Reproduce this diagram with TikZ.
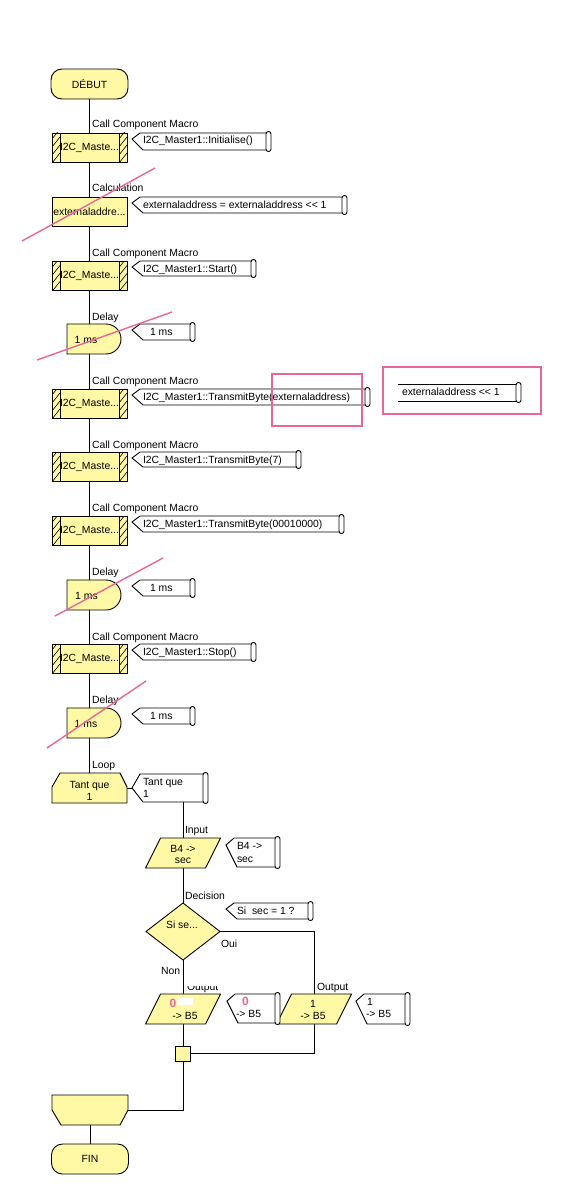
\documentclass[tikz,border=0pt]{standalone}
\usepackage{fontspec}
\setmainfont{Liberation Sans}
\usetikzlibrary{shapes.geometric}
\definecolor{fy}{HTML}{FFF9A6}
\definecolor{pk}{HTML}{E8669A}
\newcommand\flowcmt[7]{%
  \draw[cmtline] (#5,#3) -- (#2+8,#3) -- (#2,#6) -- (#2+11,#4) -- (#5,#4);
  \draw[cmtline,fill=white,rounded corners=2.4pt] (#5-2,#3-1.5) rectangle (#5+3,#4+1.5);
  \node[lbl] (#1) at (#2+11,#3+11) {#7};
}
\newcommand\pinkzero{\textcolor{pk}{\fontsize{12}{12}\selectfont\textbf{0}}}
\begin{document}
\begin{tikzpicture}[x=1pt,y=-1pt,
  font=\fontsize{10.4}{12}\selectfont,
  line width=0.9pt,
  shp/.style={draw, fill=fy, line width=0.9pt},
  cmtline/.style={line width=0.9pt},
  lbl/.style={anchor=base west, inner sep=0, outer sep=0},
  bc/.style={anchor=base, inner sep=0, outer sep=0},
  txt/.style={inner sep=0, outer sep=0, align=center},
  ghost/.style={inner sep=0, outer sep=0, minimum width=#1, minimum height=30pt},
  term/.style={shp, rounded corners=11pt, minimum width=77pt, minimum height=30pt, inner sep=0, outer sep=0},
  calcbox/.style={shp, minimum width=75pt, minimum height=29pt, inner sep=0, outer sep=0},
  macro/.style={calcbox,
    path picture={
      \draw[line width=0.9pt] ([xshift=8pt]path picture bounding box.north west) -- ([xshift=8pt]path picture bounding box.south west);
      \draw[line width=0.9pt] ([xshift=-8pt]path picture bounding box.north east) -- ([xshift=-8pt]path picture bounding box.south east);
      \foreach \k in {0,1,2,3}{
        \draw[line width=0.6pt] ([yshift=-6pt-\k*8pt]path picture bounding box.north west) -- ++(8pt,10pt);
        \draw[line width=0.6pt] ([yshift=-6pt-\k*8pt,xshift=-8pt]path picture bounding box.north east) -- ++(8pt,10pt);
      }
    }},
  jnbox/.style={shp, minimum size=15pt, inner sep=0, outer sep=0},
  cross/.style={draw=pk, line width=1.4pt},
  hl/.style={draw=pk, line width=1.8pt}
]
\fill[white] (0,0) rectangle (565,1201);
\useasboundingbox (0,0) rectangle (565,1201);

% ---- main column nodes
\node[term] (dbt) at (89.5,84) {DÉBUT};
\node[macro] (m1) at (89.5,147.5) {I2C\_Maste...};
\node[calcbox] (calc) at (89.5,211.5) {externaladdre...};
\node[macro] (m2) at (89.5,276) {I2C\_Maste...};
\node[ghost=54pt] (d1) at (94,339) {};
\node[macro] (m3) at (89.5,403.5) {I2C\_Maste...};
\node[macro] (m4) at (89.5,466.5) {I2C\_Maste...};
\node[macro] (m5) at (89.5,531) {I2C\_Maste...};
\node[ghost=54pt] (d2) at (94,595) {};
\node[macro] (m6) at (89.5,658.5) {I2C\_Maste...};
\node[ghost=54pt] (d3) at (94,723) {};
\node[ghost=75pt] (lp) at (89.5,788) {};
\node[ghost=75pt] (inp) at (183,853) {};
\node[shp, diamond, minimum width=74pt, minimum height=57pt, inner sep=0, outer sep=0] (dec) at (183,931.5) {};
\node[ghost=75pt] (o1) at (183,1009) {};
\node[ghost=75pt] (o2) at (314,1009) {};
\node[jnbox] (jn) at (183,1053.5) {};
\node[ghost=76pt] (lend) at (90,1110) {};
\node[term] (fin) at (90,1159) {FIN};
\coordinate (tqtip) at (132,788);
\coordinate (tqbot) at (183,802);

% ---- connectors
\draw (dbt.south) -- (m1.north);
\draw (m1.south) -- (calc.north);
\draw (calc.south) -- (m2.north);
\draw (m2.south) -- (m2.south |- d1.north);
\draw (d1.south -| m3.north) -- (m3.north);
\draw (m3.south) -- (m4.north);
\draw (m4.south) -- (m5.north);
\draw (m5.south) -- (m5.south |- d2.north);
\draw (d2.south -| m6.north) -- (m6.north);
\draw (m6.south) -- (m6.south |- d3.north);
\draw (d3.south -| lp.north) -- (lp.north);
\draw (lp.east) -- (tqtip);
\draw (tqbot) -- (tqbot |- inp.north);
\draw (inp.south) -- (dec.north);
\draw (dec.south) -- (o1.north);
\draw (dec.east) -| (o2.north);
\draw (o1.south) -- (jn.north);
\draw (o2.south) |- (jn.east);
\draw (jn.south) |- (lend.east);
\draw (lend.south) -- (fin.north);

% ---- custom outlines
\foreach \d in {d1,d2,d3}{
  \draw[shp] (\d.north west) -- ([xshift=-15pt]\d.north east) arc[start angle=90, end angle=-90, radius=15pt] -- (\d.south west) -- cycle;
}
\draw[shp] ([xshift=8pt]lp.north west) -- ([xshift=-7pt]lp.north east) -- ([yshift=-14pt]lp.north east) -- (lp.south east) -- (lp.south west) -- ([yshift=-14pt]lp.north west) -- cycle;
\foreach \p in {inp,o1,o2}{
  \draw[shp] ([xshift=15pt]\p.north west) -- (\p.north east) -- ([xshift=-15pt]\p.south east) -- (\p.south west) -- cycle;
}
\draw[shp] (lend.north west) -- (lend.north east) -- (lend.east) -- ([xshift=-8pt]lend.south east) -- ([xshift=9pt]lend.south west) -- (lend.west) -- cycle;

% ---- texts in shapes
\node[txt] (d1t) at (86,340) {1 ms};
\node[txt] (d2t) at (86.5,596) {1 ms};
\node[txt] (d3t) at (86,724) {1 ms};
\node[txt] (lpt) at (89.5,791) {Tant que\\1};
\node[bc] (inpa) at (183,852) {B4 ->};
\node[bc] (inpb) at (183,863) {sec};
\node[bc] (dect) at (182,928) {Si  se...};
\node[bc] (o1a) at (173,1007) {\pinkzero};
\fill[white] (178,998) rectangle (193,1005);
\node[bc] (o1b) at (185,1019) {-> B5};
\node[bc] (o2a) at (313,1007) {1};
\node[bc] (o2b) at (313,1019) {-> B5};

% ---- labels
\node[lbl] (l1) at (92,128) {Call Component Macro};
\node[lbl] (l2) at (92,192) {Calculation};
\node[lbl] (l3) at (92,256) {Call Component Macro};
\node[lbl] (l4) at (92,320) {Delay};
\node[lbl] (l5) at (92,384) {Call Component Macro};
\node[lbl] (l6) at (92,448) {Call Component Macro};
\node[lbl] (l7) at (92,511) {Call Component Macro};
\node[lbl] (l8) at (92,575) {Delay};
\node[lbl] (l9) at (92,640) {Call Component Macro};
\node[lbl] (l10) at (92,703) {Delay};
\node[lbl] (l11) at (92,768) {Loop};
\node[lbl] (l12) at (185,833) {Input};
\node[lbl] (l13) at (185,899) {Decision};
\node[lbl] (l14) at (221,947) {Oui};
\node[lbl] (l15) at (161,974) {Non};
\node[lbl] (l16) at (317,990) {Output};
\begin{scope}
  \clip (150,986) rectangle (260,995);
  \node[lbl] (l17) at (187,990) {Output};
\end{scope}

% ---- comments
\flowcmt{c1}{132}{133}{150}{268}{139}{I2C\_Master1::Initialise()}
\flowcmt{c2}{132}{197}{213}{344}{203}{externaladdress = externaladdress <{}< 1}
\flowcmt{c3}{132}{261}{276}{253}{267}{I2C\_Master1::Start()}
\flowcmt{c4}{132}{324}{340}{192}{330}{\kern7pt 1 ms}
\flowcmt{c5}{132}{389}{405}{367}{395}{I2C\_Master1::TransmitByte(externaladdress)}
\flowcmt{c6}{132}{452}{467}{298}{458}{I2C\_Master1::TransmitByte(7)}
\flowcmt{c7}{132}{516}{532}{341}{522}{I2C\_Master1::TransmitByte(00010000)}
\flowcmt{c8}{132}{580}{596}{192}{586}{\kern7pt 1 ms}
\flowcmt{c9}{132}{644}{660}{253}{650}{I2C\_Master1::Stop()}
\flowcmt{c10}{132}{708}{724}{192}{714}{\kern7pt 1 ms}
\flowcmt{c11}{132}{774}{802}{205}{788}{Tant que}
\node[lbl] (c11b) at (143,797) {1};
\flowcmt{c12}{226}{838}{867}{277}{845}{B4 ->}
\node[lbl] (c12b) at (237,862) {sec};
\flowcmt{c13}{226}{903}{919}{310}{909}{Si \ sec = 1 ?}
\flowcmt{c14}{227}{994}{1023}{277}{1001}{\kern4pt\pinkzero}
\node[lbl] (c14b) at (236,1017) {-> B5};
\flowcmt{c15}{356}{994}{1024}{407}{1001}{1}
\node[lbl] (c15b) at (366,1017) {-> B5};

% ---- floating expression
\draw[cmtline] (398,384) -- (518,384);
\draw[cmtline] (398,401) -- (518,401);
\draw[cmtline,fill=white,rounded corners=2.4pt] (516,382.5) rectangle (521,402.5);
\node[lbl] (fl) at (402,395) {externaladdress <{}< 1};

% ---- pink annotations
\draw[cross] (155,168) -- (22,241);
\draw[cross] (172,312) -- (37,360);
\draw[cross] (163,558) -- (55,616);
\draw[cross] (146,681) -- (47,748);
\draw[hl] (272,374) rectangle (362,426);
\draw[hl] (383,367) rectangle (541,414);
\end{tikzpicture}
\end{document}
